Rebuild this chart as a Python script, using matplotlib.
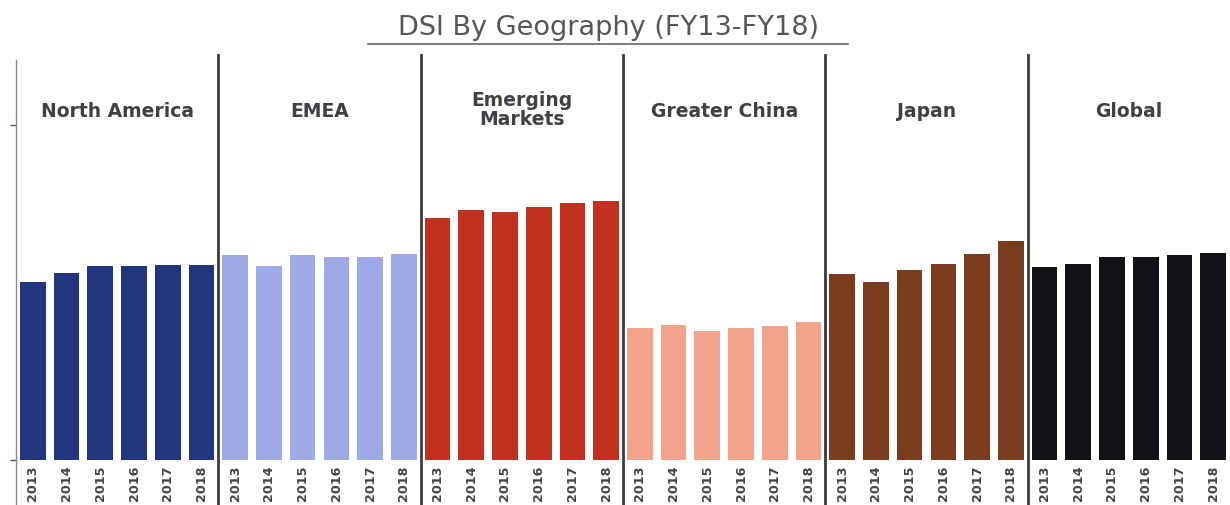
import numpy as np
import matplotlib.pyplot as plt
from matplotlib.lines import Line2D

regions = ["North America", "EMEA", "Emerging\nMarkets", "Greater China", "Japan", "Global"]
years = ["2013", "2014", "2015", "2016", "2017", "2018"]

north_america = [53.1, 55.8, 57.9, 57.9, 58.2, 58.2]
emea = [61.2, 57.9, 61.2, 60.6, 60.6, 61.5]
emerging = [72.2, 74.6, 74.0, 75.5, 76.7, 77.3]
greater_china = [39.4, 40.3, 38.5, 39.4, 40.0, 41.2]
japan = [55.5, 53.1, 56.7, 58.5, 61.5, 65.4]
global_dsi = [57.6, 58.5, 60.6, 60.6, 61.2, 61.8]

series = [north_america, emea, emerging, greater_china, japan, global_dsi]
colors = ["#22357f", "#9eaae6", "#c0321f", "#f4a28c", "#7b3c1d", "#121316"]

fig = plt.figure(figsize=(12.3, 5.05), dpi=100)
ax = fig.add_axes([16 / 1230, 45 / 505, 1 - 16 / 1230, 405 / 505])

n = len(years)
for g, (vals, col) in enumerate(zip(series, colors)):
    x = np.arange(n) + g * n
    ax.bar(x, vals, width=0.76, color=col)

ax.set_xlim(-0.5, 35.5)
ax.set_ylim(0, 120.9)

ax.set_xticks(np.arange(len(series) * n))
ax.set_xticklabels(years * len(series), rotation=90, fontsize=9.2,
                   fontweight="bold", color="#444444")
ax.tick_params(axis="x", length=0, pad=4)

ax.set_yticks([0, 100])
ax.set_yticklabels([])
ax.tick_params(axis="y", length=4, width=1, color="#3a6b6b")

for s in ["top", "right", "bottom"]:
    ax.spines[s].set_visible(False)
ax.spines["left"].set_color("#8a8a8a")
ax.spines["left"].set_linewidth(1.0)
ax.spines["left"].set_bounds(0, 119.5)

# separators between regions, running down through the year labels
for g in range(1, len(series)):
    ax.axvline(g * n - 0.5, ymin=-0.12, ymax=1.0, color="#3b3b40",
               linewidth=2, clip_on=False)
ax.axvline(-0.5, ymin=-0.12, ymax=0, color="#8a8a8a", linewidth=1.0, clip_on=False)

for g, name in enumerate(regions):
    ax.text(g * n + 2.5, 104.5 if "\n" in name else 104.0, name, ha="center", va="center",
            fontsize=13.5, fontweight="bold", color="#3f3f44", linespacing=1.0)

fig.text(608 / 1230, 1 - 28 / 505, "DSI By Geography (FY13-FY18)", ha="center",
         va="center", fontsize=19.5, color="#55555a")
fig.add_artist(Line2D([368 / 1230, 848 / 1230], [1 - 44 / 505, 1 - 44 / 505],
                      color="#66666a", linewidth=1.2))

fig.savefig("out.png", dpi=100)
